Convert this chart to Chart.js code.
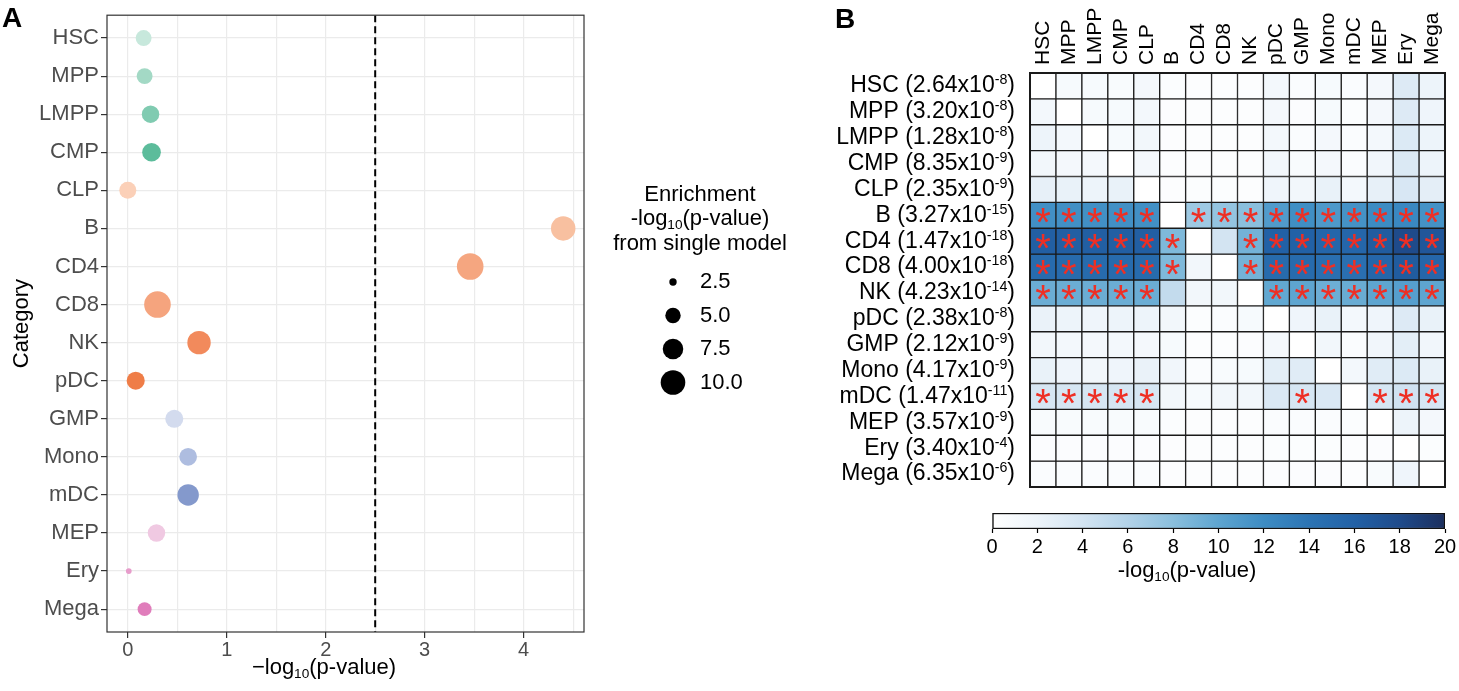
<!DOCTYPE html>
<html>
<head>
<meta charset="utf-8">
<script src="https://cdn.jsdelivr.net/npm/chart.js@4.4.1/dist/chart.umd.min.js"></script>
<style>
  html, body { margin: 0; padding: 0; background: #fff; overflow: hidden; }
  #wrap { position: relative; width: 1459px; height: 691px; }
  canvas { position: absolute; }
  #dots { left: 0; top: 0; }
  #heat { left: 830px; top: 0; }
  #scale { left: 830px; top: 500px; }
</style>
</head>
<body>
<div id="wrap">
  <canvas id="dots" width="830" height="691"></canvas>
  <canvas id="heat" width="629" height="500"></canvas>
  <canvas id="scale" width="629" height="191"></canvas>
</div>
<script>
// cell types, used on both panels
const categories = ['HSC', 'MPP', 'LMPP', 'CMP', 'CLP', 'B', 'CD4', 'CD8', 'NK', 'pDC', 'GMP', 'Mono', 'mDC', 'MEP', 'Ery', 'Mega'];

// panel A: x = -log10(p), point size = enrichment from single model
const conditionalLogP = [0.16, 0.17, 0.23, 0.24, 0.00, 4.40, 3.46, 0.30, 0.72, 0.08, 0.47, 0.61, 0.61, 0.29, 0.01, 0.17];
const singleModelLogP = [5.2, 5.2, 5.9, 6.5, 5.7, 9.9, 11.4, 11.4, 9.2, 6.2, 6.2, 6.0, 8.0, 5.9, 2.2, 4.4];
const sizeLegendValues = [2.5, 5.0, 7.5, 10.0];
const threshold = 2.5;

// panel B: row p-values (mantissa x 10^exponent)
const pMantissa = ['2.64', '3.20', '1.28', '8.35', '2.35', '3.27', '1.47', '4.00', '4.23', '2.38', '2.12', '4.17', '1.47', '3.57', '3.40', '6.35'];
const pExponent = [-8, -8, -8, -9, -9, -15, -18, -18, -14, -8, -9, -9, -11, -9, -4, -6];

// panel B: -log10(p-value), one row per trait, one column per cell type
const heatValues = [
  [0, 1, 1, 0.8, 1.2, 0.4, 0.3, 0.3, 0.3, 1.3, 0.6, 1, 0.6, 1.2, 3.2, 2],
  [1.3, 0, 1, 1, 1.3, 0.3, 0.3, 0.3, 0.3, 1.2, 0.5, 1, 0.4, 1.2, 3.2, 1.8],
  [2, 1.3, 0, 1, 1.5, 0.3, 0.3, 0.3, 0.3, 1.3, 0.6, 1.2, 0.6, 1.3, 3.3, 2],
  [1.5, 1.2, 1.2, 0, 1.2, 0.3, 0.3, 0.3, 0.3, 1.4, 0.8, 1.2, 0.6, 1.6, 3.4, 2],
  [2.5, 2.3, 2, 2.3, 0, 0.3, 0.4, 0.4, 0.3, 1.8, 1.5, 2.3, 1.3, 2.5, 3.6, 2.7],
  [11.7, 11.7, 11.7, 11.7, 11.7, 0, 7, 7.5, 8, 10.8, 11.8, 11, 11.5, 12, 12.3, 11.5],
  [16.2, 16.2, 16.2, 16.2, 16.2, 8.5, 0, 4, 9, 16, 16, 15.5, 15.5, 16.5, 18, 17],
  [15, 15, 15, 15, 15, 8.5, 1.5, 0, 9, 15, 15, 14.5, 14.5, 15.5, 16.5, 15.5],
  [9.4, 9.4, 9.4, 9.4, 9.4, 5, 1.5, 1.5, 0, 9.8, 10, 9.3, 9.5, 10, 10.5, 10],
  [2.2, 2, 1.8, 2, 2, 1.5, 0.4, 0.6, 1, 0, 1.8, 2.3, 1.3, 1.8, 3.2, 2.3],
  [1.5, 1.3, 1.2, 1.3, 1.2, 1, 0.3, 0.3, 0.5, 1.2, 0, 1.5, 0.6, 1.6, 2.8, 1.6],
  [2.3, 1.8, 1.5, 1.8, 2.2, 1.6, 0.6, 0.8, 1, 2.8, 3, 0, 1.3, 3, 3.3, 2.3],
  [3.8, 3.8, 3.8, 3.8, 3.8, 1.5, 1, 1.5, 1.5, 3.5, 3.8, 3.5, 0, 3.8, 4.2, 3.8],
  [0.8, 0.8, 0.8, 0.8, 0.8, 0.4, 0.3, 0.3, 0.3, 0.6, 0.6, 0.6, 0.4, 0, 2, 1.2],
  [0.5, 0.5, 0.5, 0.5, 0.5, 0.3, 0.3, 0.3, 0.3, 0.4, 0.4, 0.4, 0.3, 0.5, 0, 0.4],
  [0.6, 0.6, 0.6, 0.6, 0.6, 0.3, 0.3, 0.3, 0.3, 0.5, 0.5, 0.5, 0.3, 0.8, 1.8, 0]
];

// columns marked with a star, per row
const starCols = [
  [], [], [], [], [],
  [0, 1, 2, 3, 4, 6, 7, 8, 9, 10, 11, 12, 13, 14, 15],
  [0, 1, 2, 3, 4, 5, 8, 9, 10, 11, 12, 13, 14, 15],
  [0, 1, 2, 3, 4, 5, 8, 9, 10, 11, 12, 13, 14, 15],
  [0, 1, 2, 3, 4, 9, 10, 11, 12, 13, 14, 15],
  [], [], [],
  [0, 1, 2, 3, 4, 10, 13, 14, 15],
  [], [], []
];

// colour bar range
const scaleMin = 0;
const scaleMax = 20;
const scaleStep = 2;

// ---- styles ----
const FONT = "'Liberation Sans', Arial, Helvetica, sans-serif";
const dotColors = ['#c7e8dc', '#a3d9c5', '#80cbb1', '#5cbc9b', '#fbd0b8', '#f8c0a0', '#f5a680', '#f5a47e',
  '#f28a5c', '#ef7d47', '#d3dbee', '#aebde0', '#8499cc', '#f0c9e2', '#e79ccb', '#e07dbb'];
const blueStops = [[0, '#ffffff'], [2, '#edf4fa'], [4, '#d3e4f2'], [6, '#b2d2e8'], [8, '#8abfdd'], [10, '#5ea5d0'],
  [12, '#3d8cc3'], [14, '#2c74b4'], [16, '#2261a6'], [18, '#1f4b8b'], [20, '#1c2f5e']];
const colLabelSize = 21;

Chart.defaults.font.family = FONT;
Chart.defaults.animation = false;

function sizeRadius(v) {
  return Math.sqrt(Math.max(0, -32.2 + 18.35 * v));
}

function hexToRgb(h) {
  const n = parseInt(h.slice(1), 16);
  return [n >> 16, (n >> 8) & 255, n & 255];
}

function blues(v) {
  v = Math.max(scaleMin, Math.min(scaleMax, v));
  for (let i = 1; i < blueStops.length; i++) {
    if (v <= blueStops[i][0]) {
      const [v0, c0] = blueStops[i - 1];
      const [v1, c1] = blueStops[i];
      const t = (v - v0) / (v1 - v0);
      const a = hexToRgb(c0), b = hexToRgb(c1);
      return 'rgb(' + a.map((x, k) => Math.round(x + (b[k] - x) * t)).join(',') + ')';
    }
  }
  return blueStops[blueStops.length - 1][1];
}

// text with sub/superscript pieces
function richText(ctx, segs, x, y, size, align, color) {
  const small = size * 0.62;
  ctx.save();
  ctx.fillStyle = color || '#000';
  ctx.textAlign = 'left';
  ctx.textBaseline = 'middle';
  const widths = segs.map(s => {
    ctx.font = (s.v ? small : size) + 'px ' + FONT;
    return ctx.measureText(s.t).width;
  });
  const total = widths.reduce((a, b) => a + b, 0);
  let cx = align === 'center' ? x - total / 2 : align === 'right' ? x - total : x;
  segs.forEach((s, i) => {
    ctx.font = (s.v ? small : size) + 'px ' + FONT;
    const dy = s.v === 'sub' ? size * 0.28 : s.v === 'sup' ? -size * 0.24 : 0;
    ctx.fillText(s.t, cx, y + dy);
    cx += widths[i];
  });
  ctx.restore();
}

// ---------- panel A ----------
const panelA = {
  id: 'panelA',
  afterDraw(chart) {
    const { ctx, chartArea: a } = chart;
    ctx.save();
    ctx.strokeStyle = '#333';
    ctx.lineWidth = 1.2;
    ctx.strokeRect(a.left, a.top, a.right - a.left, a.bottom - a.top);
    ctx.fillStyle = '#000';
    ctx.font = 'bold 28px ' + FONT;
    ctx.textBaseline = 'alphabetic';
    ctx.fillText('A', 2, 27);
    ctx.restore();

    richText(ctx, [{ t: '\u2212log' }, { t: '10', v: 'sub' }, { t: '(p-value)' }], 324, 668, 22, 'center');

    // size legend
    const lx = 700;
    richText(ctx, [{ t: 'Enrichment' }], lx, 195, 22, 'center');
    richText(ctx, [{ t: '-log' }, { t: '10', v: 'sub' }, { t: '(p-value)' }], lx, 219, 22, 'center');
    richText(ctx, [{ t: 'from single model' }], lx, 244, 22, 'center');
    sizeLegendValues.forEach((v, i) => {
      const cy = 282 + i * 33.5;
      ctx.save();
      ctx.beginPath();
      ctx.arc(673, cy, sizeRadius(v), 0, Math.PI * 2);
      ctx.fillStyle = '#000';
      ctx.fill();
      ctx.restore();
      richText(ctx, [{ t: v.toFixed(1) }], 700, cy, 22, 'left');
    });
  }
};

new Chart(document.getElementById('dots'), {
  type: 'scatter',
  data: {
    datasets: [
      {
        type: 'line',
        data: [{ x: threshold, y: -0.6 }, { x: threshold, y: 15.6 }],
        borderColor: '#000',
        borderWidth: 2,
        borderDash: [7, 4],
        pointRadius: 0
      },
      {
        data: categories.map((c, i) => ({ x: conditionalLogP[i], y: i })),
        pointBackgroundColor: dotColors,
        pointBorderWidth: 0,
        pointRadius: ctx => ctx.dataIndex === undefined ? 3 : sizeRadius(singleModelLogP[ctx.dataIndex])
      }
    ]
  },
  options: {
    responsive: false,
    animation: false,
    events: [],
    layout: { padding: { left: 0, right: 246, top: 3, bottom: 0 } },
    plugins: { legend: { display: false }, tooltip: { enabled: false } },
    scales: {
      x: {
        type: 'linear',
        min: -0.21,
        max: 4.61,
        border: { display: false },
        grid: {
          color: '#ebebeb',
          lineWidth: 1.2,
          tickLength: 6,
          tickColor: ctx => Number.isInteger(ctx.tick.value) ? '#333' : 'rgba(0,0,0,0)'
        },
        ticks: {
          stepSize: 0.5,
          includeBounds: false,
          maxTicksLimit: 40,
          callback: v => Number.isInteger(v) ? String(v) : '',
          font: { size: 20 },
          color: '#4d4d4d',
          padding: 0
        },
        afterFit: s => { s.height = 59; }
      },
      y: {
        type: 'linear',
        reverse: true,
        min: -0.6,
        max: 15.6,
        border: { display: false },
        grid: { color: '#ebebeb', lineWidth: 1.2, tickLength: 6, tickColor: '#333' },
        ticks: {
          stepSize: 1,
          includeBounds: false,
          autoSkip: false,
          maxTicksLimit: 40,
          callback: v => categories[v],
          font: { size: 22 },
          color: '#4d4d4d',
          padding: 2
        },
        title: { display: true, text: 'Category', font: { size: 22 }, color: '#000', padding: { top: 9 } },
        afterFit: s => { s.width = 107; }
      }
    }
  },
  plugins: [panelA]
});

// ---------- panel B ----------
const panelB = {
  id: 'panelB',
  afterDatasetsDraw(chart) {
    const { ctx, chartArea: a, scales: { y } } = chart;
    // stars
    ctx.save();
    ctx.fillStyle = '#ee2f24';
    ctx.font = '40px ' + FONT;
    ctx.textAlign = 'center';
    ctx.textBaseline = 'alphabetic';
    const m = ctx.measureText('*');
    const shift = (m.actualBoundingBoxAscent - m.actualBoundingBoxDescent) / 2;
    starCols.forEach((cols, row) => {
      const meta = chart.getDatasetMeta(row);
      cols.forEach(col => {
        const p = meta.data[col].getCenterPoint();
        ctx.fillText('*', p.x, p.y + shift);
      });
    });
    // outer frame
    ctx.strokeStyle = '#1a1a1a';
    ctx.lineWidth = 2;
    ctx.strokeRect(a.left, a.top, a.right - a.left, a.bottom - a.top);
    ctx.fillStyle = '#000';
    ctx.font = 'bold 28px ' + FONT;
    ctx.textAlign = 'left';
    ctx.fillText('B', 5, 28);
    ctx.restore();

    // row labels
    categories.forEach((c, i) => {
      const cy = y.getPixelForValue(i + 0.5);
      richText(ctx, [{ t: c + ' (' + pMantissa[i] + 'x10' }, { t: String(pExponent[i]), v: 'sup' }, { t: ')' }],
        a.left - 15, cy, 23, 'right');
    });
  }
};

new Chart(document.getElementById('heat'), {
  type: 'bar',
  data: {
    labels: categories,
    datasets: categories.map((row, i) => ({
      label: row,
      data: categories.map(() => 1),
      backgroundColor: heatValues[i].map(blues),
      borderColor: '#1a1a1a',
      borderWidth: 1,
      borderSkipped: false,
      barPercentage: 1,
      categoryPercentage: 1
    }))
  },
  options: {
    responsive: false,
    animation: false,
    events: [],
    layout: { padding: { left: 0, right: 14, top: 0, bottom: 13 } },
    plugins: { legend: { display: false }, tooltip: { enabled: false } },
    scales: {
      x: {
        position: 'top',
        stacked: true,
        grid: { display: false, drawTicks: false },
        border: { display: false },
        ticks: {
          autoSkip: false,
          minRotation: 90,
          maxRotation: 90,
          font: { size: colLabelSize },
          color: '#000',
          padding: 8,
          labelOffset: colLabelSize * 1.2
        },
        afterFit: s => { s.height = 73; }
      },
      y: {
        stacked: true,
        min: 0,
        max: 16,
        reverse: true,
        grid: { display: false },
        border: { display: false },
        ticks: { display: false },
        afterFit: s => { s.width = 200; }
      }
    }
  },
  plugins: [panelB]
});

// ---------- colour bar ----------
const scaleTitle = {
  id: 'scaleTitle',
  afterDraw(chart) {
    richText(chart.ctx, [{ t: '-log' }, { t: '10', v: 'sub' }, { t: '(p-value)' }], 357, 71, 22, 'center');
  }
};

new Chart(document.getElementById('scale'), {
  type: 'bar',
  data: {
    labels: [''],
    datasets: [{
      data: [[scaleMin, scaleMax]],
      backgroundColor: c => {
        const x = c.chart.scales.x;
        if (!c.chart.chartArea || !x) return blues(10);
        const g = c.chart.ctx.createLinearGradient(x.getPixelForValue(scaleMin), 0, x.getPixelForValue(scaleMax), 0);
        blueStops.forEach(([v, col]) => g.addColorStop((v - scaleMin) / (scaleMax - scaleMin), col));
        return g;
      },
      borderColor: '#111',
      borderWidth: 1.5,
      borderSkipped: false,
      barPercentage: 1,
      categoryPercentage: 1
    }]
  },
  options: {
    indexAxis: 'y',
    responsive: false,
    animation: false,
    events: [],
    layout: { padding: { left: 162, right: 14, top: 13, bottom: 0 } },
    plugins: { legend: { display: false }, tooltip: { enabled: false } },
    scales: {
      x: {
        type: 'linear',
        min: scaleMin,
        max: scaleMax,
        border: { display: false },
        grid: { drawOnChartArea: false, tickLength: 4, tickColor: '#000', tickWidth: 1.2 },
        ticks: { stepSize: scaleStep, font: { size: 20 }, color: '#000', padding: 2 },
        afterFit: s => { s.height = 162; }
      },
      y: { display: false }
    }
  },
  plugins: [scaleTitle]
});
</script>
</body>
</html>
